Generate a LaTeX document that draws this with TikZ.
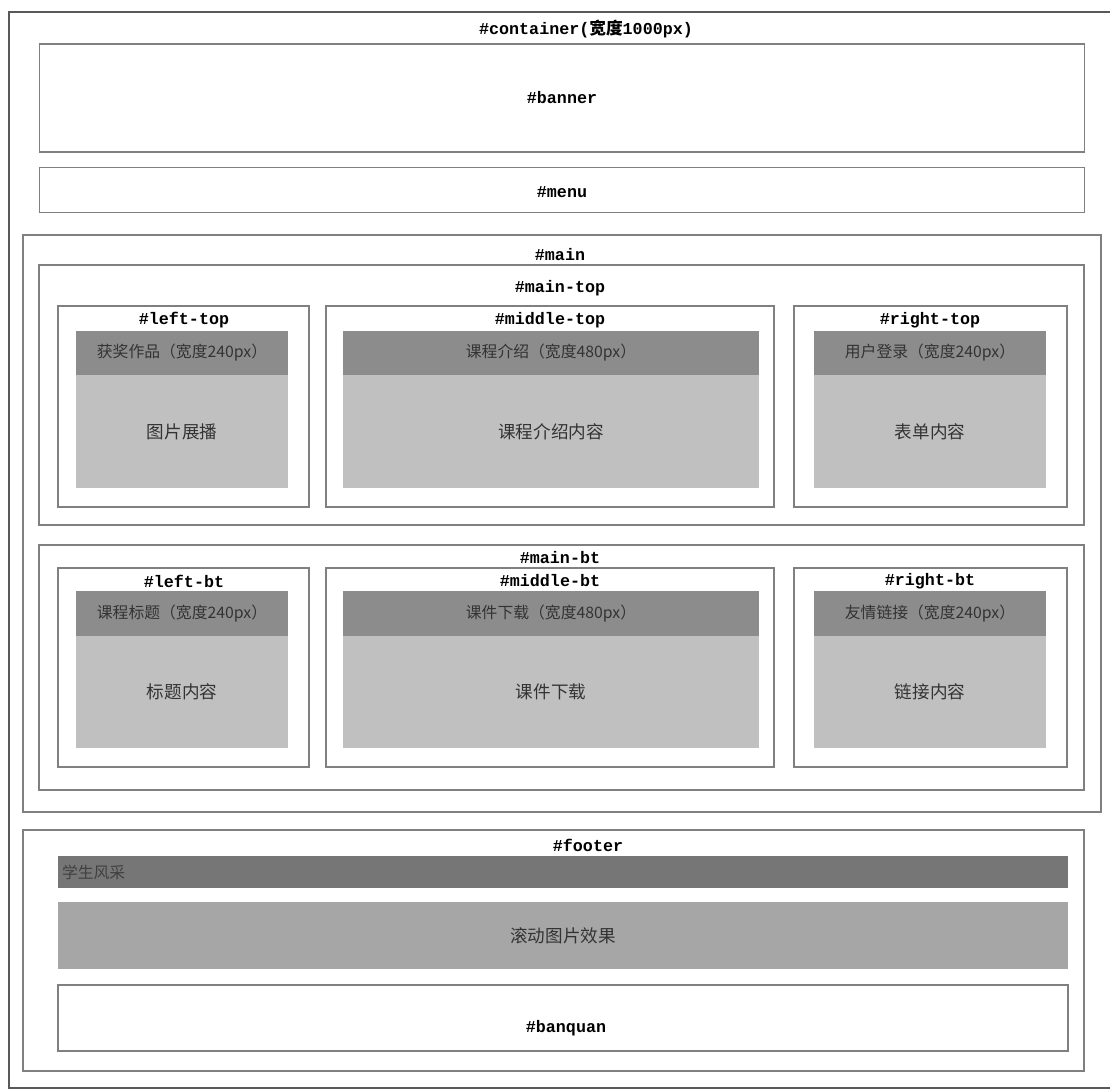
\documentclass[tikz,border=0pt]{standalone}
\usepackage{fontspec}
\setmonofont{Liberation Mono}
\newfontfamily\cjk{Noto Sans CJK SC}
\usetikzlibrary{positioning}
\definecolor{hdrgray}{RGB}{140,140,140}
\definecolor{bodygray}{RGB}{192,192,192}
\definecolor{footgray}{RGB}{118,118,118}
\definecolor{rollgray}{RGB}{166,166,166}
\definecolor{linegray}{RGB}{128,128,128}
\begin{document}
\begin{tikzpicture}[x=0.02cm,y=-0.02cm,every node/.style={inner sep=0pt,outer sep=0pt},
 box/.style={draw=linegray,line width=0.7pt,fill=white},
 lbl/.style={font=\fontsize{9.5}{11}\selectfont\ttfamily\bfseries},
 hdr/.style={fill=hdrgray,font=\fontsize{9}{11}\selectfont\cjk,text=black!80},
 bdy/.style={fill=bodygray,font=\fontsize{10}{12}\selectfont\cjk,text=black!80}]
\useasboundingbox (0,0) rectangle (1110,1092);
\node[draw=black!65,line width=1pt,fill=white,minimum width=22.14cm,minimum height=21.52cm] (cont) at (562.5,550) {};
\node[lbl] (conttxt) at (586,29) {\#container({\cjk 宽度}1000px)};
\node[box,minimum width=20.9cm,minimum height=2.16cm] (ban) at (562,98) {};
\node[lbl] at (562,98) {\#banner};
\node[box,minimum width=20.9cm,minimum height=0.9cm] (menu) at (562,190) {};
\node[lbl] at (562,192) {\#menu};
% main
\node[box,minimum width=21.56cm,minimum height=11.54cm] (mainbox) at (562,523.5) {};
\node[lbl] at (560,255) {\#main};
\node[box,minimum width=20.9cm,minimum height=5.2cm] (mtop) at (561.5,395) {};
\node[lbl] at (560,288) {\#main-top};
\node[box,minimum width=5.02cm,minimum height=4.02cm] (lt) at (183.5,406.5) {};
\node[box,minimum width=8.96cm,minimum height=4.02cm] (mt) at (550,406.5) {};
\node[box,minimum width=5.46cm,minimum height=4.02cm] (rt) at (930.5,406.5) {};
\node[lbl] at (184,320) {\#left-top};
\node[lbl] at (550,320) {\#middle-top};
\node[lbl] at (930,320) {\#right-top};
\node[hdr,minimum width=4.24cm,minimum height=0.88cm] (lth) at (182,353) {获奖作品（宽度240px）};
\node[bdy,minimum width=4.24cm,minimum height=2.26cm] (ltb) at (182,431.5) {图片展播};
\node[hdr,minimum width=8.32cm,minimum height=0.88cm] (mth) at (551,353) {课程介绍（宽度480px）};
\node[bdy,minimum width=8.32cm,minimum height=2.26cm] (mtb) at (551,431.5) {课程介绍内容};
\node[hdr,minimum width=4.64cm,minimum height=0.88cm] (rth) at (930,353) {用户登录（宽度240px）};
\node[bdy,minimum width=4.64cm,minimum height=2.26cm] (rtb) at (930,431.5) {表单内容};
\node[box,minimum width=20.9cm,minimum height=4.9cm] (mbt) at (561.5,667.5) {};
\node[lbl] at (560,558) {\#main-bt};
\node[box,minimum width=5.02cm,minimum height=3.98cm] (lb) at (183.5,667.5) {};
\node[box,minimum width=8.96cm,minimum height=3.98cm] (mb) at (550,667.5) {};
\node[box,minimum width=5.46cm,minimum height=3.98cm] (rb) at (930.5,667.5) {};
\node[lbl] at (184,581) {\#left-bt};
\node[lbl] at (550,581) {\#middle-bt};
\node[lbl] at (930,581) {\#right-bt};
\node[hdr,minimum width=4.24cm,minimum height=0.9cm] (lbh) at (182,613.5) {课程标题（宽度240px）};
\node[bdy,minimum width=4.24cm,minimum height=2.24cm] (lbb) at (182,692) {标题内容};
\node[hdr,minimum width=8.32cm,minimum height=0.9cm] (mbh) at (551,613.5) {课件下载（宽度480px）};
\node[bdy,minimum width=8.32cm,minimum height=2.24cm] (mbb) at (551,692) {课件下载};
\node[hdr,minimum width=4.64cm,minimum height=0.9cm] (rbh) at (930,613.5) {友情链接（宽度240px）};
\node[bdy,minimum width=4.64cm,minimum height=2.24cm] (rbb) at (930,692) {链接内容};
% footer
\node[box,minimum width=21.22cm,minimum height=4.82cm] (foot) at (553.5,950.5) {};
\node[lbl] at (588,845) {\#footer};
\node[fill=footgray,minimum width=20.2cm,minimum height=0.64cm] (stu) at (563,872) {};
\node[font=\fontsize{9}{11}\selectfont\cjk,text=black!75,anchor=west] at (62,872) {学生风采};
\node[fill=rollgray,minimum width=20.2cm,minimum height=1.34cm,font=\fontsize{10}{12}\selectfont\cjk,text=black!80] (roll) at (563,935.5) {滚动图片效果};
\node[box,minimum width=20.2cm,minimum height=1.32cm] (banq) at (563,1018) {};
\node[lbl] at (566,1028) {\#banquan};
\end{tikzpicture}
\end{document}
